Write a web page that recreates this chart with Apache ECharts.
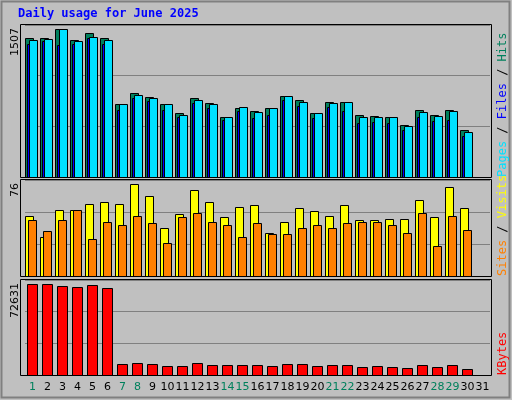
<!DOCTYPE html>
<html>
<head>
<meta charset="utf-8">
<script src="https://cdn.jsdelivr.net/npm/echarts@6/dist/echarts.min.js"></script>
<style>html,body{margin:0;padding:0;background:#c0c0c0}#chart{width:512px;height:400px}</style>
</head>
<body>
<div id="chart"></div>
<script>
// days of the month
var days = [];
for (var d = 1; d <= 31; d++) days.push(String(d));
var weekendDays = ['1','7','8','14','15','21','22','28','29'];

// top panel
var hits  = [1412,1412,1507,1395,1463,1412,739,851,810,739,647,800,749,616,706,676,706,821,780,647,762,762,636,626,616,534,687,636,680,476,0];
var files = [1391,1401,1507,1384,1425,1391,739,840,800,739,636,789,739,606,708,667,698,820,759,647,749,759,616,616,606,524,657,626,677,463,0];
var pages = [1350,1381,1343,1350,1412,1350,687,800,769,680,606,749,698,585,677,596,636,789,718,596,708,677,555,565,555,483,616,575,585,422,0];
// middle panel
var visits = [50,32,55,55,60,61,60,76,66,40,51,71,61,49,57,59,36,45,56,54,50,59,46,46,47,47,63,49,74,56,0];
var sites  = [46,37,46,55,31,45,42,50,44,27,49,52,45,42,32,44,35,35,40,42,40,44,45,45,42,36,52,25,50,38,0];
// bottom panel
var kbytes = [72631,72631,71029,70228,71830,69427,8545,9346,8545,6943,6943,9346,7744,7744,7744,7744,6943,8545,8545,6943,7744,7744,6141,6943,6141,5340,7744,6141,7744,4539,0];

var maxLabels = ['1507', '76', '72631'];

function pairs(arr) {
  return arr.map(function (v, i) { return [i, v]; });
}

// draws a bar shifted from the category centre
function barItem(offL, w) {
  return function (params, api) {
    var v = api.value(1);
    if (!v) return null;
    var p = api.coord([api.value(0), v]);
    var b = api.coord([api.value(0), 0]);
    return {
      type: 'rect',
      shape: { x: Math.round(p[0] + offL) + 0.5, y: Math.round(p[1]) + 0.5, width: w, height: Math.round(b[1] - p[1]) },
      style: { fill: api.visual('color'), stroke: '#000', lineWidth: 1 }
    };
  };
}

function series(name, arr, idx, color, offL, w) {
  return {
    name: name, type: 'custom', xAxisIndex: idx, yAxisIndex: idx,
    data: pairs(arr), itemStyle: { color: color },
    encode: { x: 0, y: 1 }, renderItem: barItem(offL, w)
  };
}

var panels = [{ top: 25, h: 152, max: 1548 }, { top: 180, h: 96, max: 79.5 }, { top: 280, h: 95, max: 76000 }];

var grids = [], xAxes = [], yAxes = [], graphics = [];
graphics.push({ type: 'rect', shape: { x: 1.5, y: 1.5, width: 508, height: 396 }, style: { fill: '#c0c0c0', stroke: '#808080', lineWidth: 2 }, z: -10 });
panels.forEach(function (p, i) {
  grids.push({ left: 25, width: 465, top: p.top, height: p.h });
  xAxes.push({
    type: 'category', gridIndex: i, data: days,
    axisLine: { show: false }, axisTick: { show: false },
    axisLabel: {
      show: i === 2, interval: 0, margin: 7, fontSize: 11, fontFamily: 'DejaVu Sans',
      color: function (v) { return weekendDays.indexOf(v) >= 0 ? '#00805c' : '#000'; }
    }
  });
  yAxes.push({
    type: 'value', gridIndex: i, min: 0, max: p.max, interval: p.max / 3,
    axisLabel: { show: false }, axisLine: { show: false }, axisTick: { show: false },
    splitLine: { show: true, lineStyle: { color: '#808080', width: 1 } }
  });
  graphics.push({ type: 'rect', shape: { x: 20.5, y: p.top - 0.5, width: 471, height: p.h + 1 }, style: { fill: 'none', stroke: '#000', lineWidth: 1 }, z: 50 });
  graphics.push({
    type: 'text', x: 10, y: p.top + 3, rotation: Math.PI / 2, z: 50,
    style: { text: maxLabels[i], fill: '#000', font: '11px DejaVu Sans', align: 'right', verticalAlign: 'top' }
  });
});

var sideLabels = [
  { y: 177, rich: [['Pages', '#00e0ff'], [' / ', '#000'], ['Files', '#0000ff'], [' / ', '#000'], ['Hits', '#00805c']] },
  { y: 276, rich: [['Sites', '#ff8000'], [' / ', '#000'], ['Visits', '#ffff00']] },
  { y: 375, rich: [['KBytes', '#ff0000']] }
];
sideLabels.forEach(function (s) {
  var text = '', rich = {};
  s.rich.forEach(function (r, k) {
    rich['s' + k] = { fill: r[1], font: '12px DejaVu Sans Mono' };
    text += '{s' + k + '|' + r[0] + '}';
  });
  graphics.push({
    type: 'text', x: 497, y: s.y, rotation: Math.PI / 2, z: 50,
    style: { text: text, rich: rich, align: 'left', verticalAlign: 'top' }
  });
});

graphics.push({
  type: 'text', left: 18, top: 8, z: 50,
  style: { text: 'Daily usage for June 2025', fill: '#0000ff', font: 'bold 12px DejaVu Sans Mono' }
});

var chart = echarts.init(document.getElementById('chart'));
chart.setOption({
  animation: false,
  backgroundColor: '#c0c0c0',
  grid: grids,
  xAxis: xAxes,
  yAxis: yAxes,
  graphic: graphics,
  series: [
    series('Hits', hits, 0, '#00805c', -7.5, 8),
    series('Pages', pages, 0, '#0000ff', -5.5, 2),
    series('Files', files, 0, '#00e0ff', -3.5, 8),
    series('Visits', visits, 1, '#ffff00', -7.5, 8),
    series('Sites', sites, 1, '#ff8000', -4.5, 8),
    series('KBytes', kbytes, 2, '#ff0000', -6, 10)
  ]
});
</script>
</body>
</html>
